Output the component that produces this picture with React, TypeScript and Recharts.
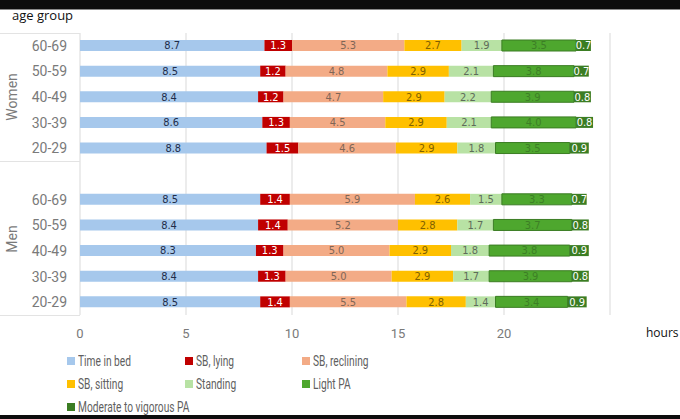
import { BarChart, Bar, XAxis, YAxis, CartesianGrid, LabelList } from "recharts";

const groups = ["Women", "Men"];
const ages = ["60-69", "50-59", "40-49", "30-39", "20-29"];

// one value per row, women first then men, in the order of `ages`
const timeInBed = [8.7, 8.5, 8.4, 8.6, 8.8, 8.5, 8.4, 8.3, 8.4, 8.5];
const sbLying = [1.3, 1.2, 1.2, 1.3, 1.5, 1.4, 1.4, 1.3, 1.3, 1.4];
const sbReclining = [5.3, 4.8, 4.7, 4.5, 4.6, 5.9, 5.2, 5.0, 5.0, 5.5];
const sbSitting = [2.7, 2.9, 2.9, 2.9, 2.9, 2.6, 2.8, 2.9, 2.9, 2.8];
const standing = [1.9, 2.1, 2.2, 2.1, 1.8, 1.5, 1.7, 1.8, 1.7, 1.4];
const lightPA = [3.5, 3.8, 3.9, 4.0, 3.5, 3.3, 3.7, 3.8, 3.9, 3.4];
const mvpa = [0.7, 0.7, 0.8, 0.8, 0.9, 0.7, 0.8, 0.9, 0.8, 0.9];

const xTicks = [0, 5, 10, 15, 20, 25];

const series = [
  { key: "bed", name: "Time in bed", values: timeInBed, fill: "#a6c8ec", text: "#1f2d4a" },
  { key: "lying", name: "SB, lying", values: sbLying, fill: "#c00000", text: "#ffffff" },
  { key: "reclining", name: "SB, reclining", values: sbReclining, fill: "#f3ab86", text: "#7f6656" },
  { key: "sitting", name: "SB, sitting", values: sbSitting, fill: "#ffc000", text: "#7f6000" },
  { key: "standing", name: "Standing", values: standing, fill: "#b8e2a4", text: "#5e6b5a" },
  { key: "light", name: "Light PA", values: lightPA, fill: "#4ea72e", text: "#3d7f26" },
  { key: "mvpa", name: "Moderate to vigorous PA", values: mvpa, fill: "#3b7d23", text: "#ffffff" },
];

// build rows, with an empty category between the two groups
const rows: any[] = [];
groups.forEach((g, gi) => {
  if (gi > 0) rows.push({ cat: "gap" });
  ages.forEach((a, ai) => {
    const row: any = { cat: g + " " + a };
    series.forEach((s) => {
      row[s.key] = s.values[gi * ages.length + ai];
    });
    rows.push(row);
  });
});

const labelFont = "'DejaVu Sans Condensed', 'Liberation Sans', sans-serif";
const axisFont = "Roboto, Arial, sans-serif";

const App = () => {
  return (
    <div
      style={{
        position: "fixed",
        top: 0,
        left: 0,
        width: 680,
        height: 419,
        background: "#ffffff",
        overflow: "hidden",
      }}
    >
      <div style={{ position: "absolute", top: 0, left: 0, width: 680, height: 9, background: "#0d0d0d" }} />
      <div style={{ position: "absolute", top: 9, left: 0, width: 680, height: 1, background: "#8a8a8a" }} />
      <div style={{ position: "absolute", top: 415, left: 0, width: 680, height: 4, background: "#0d0d0d" }} />

      <BarChart
        width={680}
        height={419}
        data={rows}
        layout="vertical"
        margin={{ top: 33, right: 70, bottom: 74, left: 0 }}
        barSize={11}
      >
        <CartesianGrid horizontal={false} stroke="#d9d9d9" />
        <XAxis
          type="number"
          domain={[0, 25]}
          ticks={xTicks}
          height={30}
          axisLine={false}
          tickLine={false}
          tickMargin={8}
          tick={{ fill: "#7a7a7a", fontSize: 13, fontFamily: axisFont }}
          tickFormatter={(v) => (v === 25 ? "" : String(v))}
        />
        <YAxis
          type="category"
          dataKey="cat"
          width={80}
          axisLine={false}
          tickLine={false}
          tickMargin={7}
          interval={0}
          tick={{ fill: "#7a7a7a", fontSize: 14, fontFamily: axisFont }}
          tickFormatter={(v) => (v === "gap" ? "" : String(v).split(" ")[1])}
        />
        {series.map((s) => (
          <Bar
            key={s.key}
            dataKey={s.key}
            name={s.name}
            stackId="a"
            fill={s.fill}
            stroke={s.key === "light" ? "#3b7d23" : undefined}
            strokeWidth={s.key === "light" ? 1 : 0}
            isAnimationActive={false}
          >
            <LabelList
              dataKey={s.key}
              position="center"
              fill={s.text}
              fontSize={11}
              fontFamily={labelFont}
              formatter={(v: any) => (v == null ? "" : Number(v).toFixed(1))}
            />
          </Bar>
        ))}
      </BarChart>

      {/* left group box */}
      {[33, 161, 315].map((y) => (
        <div key={y} style={{ position: "absolute", top: y, left: 0, width: 80, height: 1, background: "#e3e3e3" }} />
      ))}
      {groups.map((g, i) => (
        <div
          key={g}
          style={{
            position: "absolute",
            left: 12,
            top: i === 0 ? 97 : 239,
            transform: "translate(-50%, -50%) rotate(-90deg)",
            color: "#7a7a7a",
            fontSize: 14,
            fontFamily: axisFont,
          }}
        >
          {g}
        </div>
      ))}

      <div style={{ position: "absolute", left: 12, top: 6, fontSize: 13, fontFamily: "'Open Sans', sans-serif", color: "#111" }}>
        age group
      </div>
      <div
        style={{
          position: "absolute",
          left: 646,
          top: 324,
          fontSize: 12,
          fontFamily: "'Open Sans', sans-serif",
          color: "#111",
          whiteSpace: "nowrap",
        }}
      >
        hours
      </div>

      {/* legend */}
      <div
        style={{
          position: "absolute",
          left: 67,
          top: 352,
          display: "grid",
          gridTemplateColumns: "118px 117px 117px",
          rowGap: 5,
          fontFamily: axisFont,
          fontSize: 15,
          color: "#5f5f5f",
        }}
      >
        {series.map((s) => (
          <div key={s.key} style={{ display: "flex", alignItems: "center", height: 18, whiteSpace: "nowrap" }}>
            <span style={{ width: 8, height: 8, background: s.fill, marginRight: 3, flex: "none" }} />
            <span style={{ display: "inline-block", transform: "scaleX(0.68)", transformOrigin: "left center" }}>
              {s.name}
            </span>
          </div>
        ))}
      </div>
    </div>
  );
};

export default App;
